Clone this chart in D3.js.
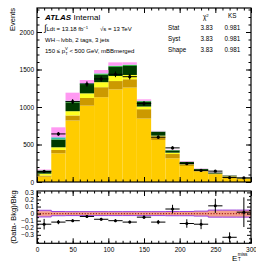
<!DOCTYPE html>
<html><head><meta charset="utf-8">
<script src="https://cdn.jsdelivr.net/npm/d3@7"></script>
<style>
html,body{margin:0;padding:0;background:#fff;}
svg{display:block;font-family:"Liberation Sans",Arial,sans-serif;}
</style></head>
<body><svg id="c" width="256" height="261"></svg>
<script>
// ---- data ----
const binLow = [0,20,40,60,80,100,120,140,160,180,200,220,240,260,280];
const binWidth = 20;
const ttbar   = [71,383,820,1018,1131,1235,1259,846,560,316,213,135,105,70,45];
const stopWt  = [15,44,67,102,133,111,111,125,45,57,20,10,5,5,3];
const stopT   = [25,36,57,62,67,67,57,35,13,18,5,5,2,1,1];
const wbb     = [40,100,115,111,100,120,120,67,50,30,30,22,15,10,6];
const wbc     = [3,8,15,15,12,12,12,6,5,4,3,2,1,1,1];
const zjets   = [2,25,10,8,6,6,6,4,2,1,1,1,1,0,0];
const multijet= [10,133,107,44,44,44,31,19,7,3,8,5,4,2,1];
const dataVals= [141,641,1072,1306,1374,1436,1404,1047,598,455,244,155,145,59,55];
const dataErr = [12,25,33,36,37,38,37,32,24,21,16,12,12,8,7];
const ratioVals=[-0.15,-0.12,-0.10,-0.04,-0.08,-0.10,-0.12,-0.05,-0.12,0.065,-0.14,-0.15,0.11,-0.335,0.02];
const ratioErr =[0.075,0.03,0.02,0.02,0.02,0.02,0.02,0.025,0.03,0.06,0.06,0.07,0.10,0.07,0.21];
const systBand =[0.047,0.03,0.028,0.028,0.028,0.028,0.028,0.028,0.028,0.03,0.03,0.035,0.05,0.05,0.05];
const statBand =[0.03,0.02,0.018,0.018,0.018,0.018,0.018,0.02,0.02,0.022,0.025,0.03,0.04,0.04,0.04];
const yTicksMain = [0,500,1000,1500,2000];
const xTicks = [0,50,100,150,200,250,300];
const rTicks = [-0.3,-0.2,-0.1,0,0.1,0.2,0.3];
const rTickLabels = ["\u22120.3","\u22120.2","\u22120.1","0","0.1","0.2","0.3"];
const statRows = [["Stat","3.83","0.981"],["Syst","3.83","0.981"],["Shape","3.83","0.981"]];

const layers = [
  {key:"ttbar", vals:ttbar, color:"#FFCC00"},
  {key:"stopWt", vals:stopWt, color:"#CC9900"},
  {key:"stopT", vals:stopT, color:"#FFFF22"},
  {key:"wbb", vals:wbb, color:"#003A00"},
  {key:"wbc", vals:wbc, color:"#22AA22"},
  {key:"zjets", vals:zjets, color:"#33BBAA"},
  {key:"multijet", vals:multijet, color:"#FF99F2"}
];

// ---- layout ----
const L=37, R=251, T=8, B=182, RT=191, RB=243.3;
const svg = d3.select("#c");
const x = d3.scaleLinear().domain([0,300]).range([L,R]);
const y = d3.scaleLinear().domain([0,2320]).range([B,T]);
const yr = d3.scaleLinear().domain([-0.42,0.32]).range([RB,RT]);

// stack
const rows = binLow.map((b,i)=>{const o={low:b}; layers.forEach(l=>o[l.key]=l.vals[i]); return o;});
const stack = d3.stack().keys(layers.map(l=>l.key))(rows);
const gStack = svg.append("g");
stack.forEach((s,li)=>{
  gStack.selectAll(null).data(s).enter().append("rect")
    .attr("x",d=>x(d.data.low)).attr("width",d=>x(d.data.low+binWidth)-x(d.data.low))
    .attr("y",d=>y(d[1])).attr("height",d=>Math.max(0,y(d[0])-y(d[1])))
    .attr("fill",layers[li].color);
});

// data points main
const gData = svg.append("g").attr("stroke","#000").attr("stroke-width",1);
binLow.forEach((b,i)=>{
  const cx = x(b+binWidth/2), cy=y(dataVals[i]);
  gData.append("line").attr("x1",x(b)).attr("x2",x(b+binWidth)).attr("y1",cy).attr("y2",cy);
  gData.append("line").attr("x1",cx).attr("x2",cx).attr("y1",y(dataVals[i]-dataErr[i])).attr("y2",y(dataVals[i]+dataErr[i]));
  gData.append("circle").attr("cx",cx).attr("cy",cy).attr("r",1.6).attr("fill","#000").attr("stroke","none");
});

// ratio band
const bandArea = (hw)=>{
  const pts=[];
  binLow.forEach((b,i)=>{pts.push([b,hw[i]]);pts.push([b+binWidth,hw[i]]);});
  return pts;
};
const sb = bandArea(systBand), tb = bandArea(statBand);
const areaGen = d3.area().x(d=>x(d[0])).y0(d=>yr(-d[1])).y1(d=>yr(d[1]));
svg.append("path").attr("d",areaGen(sb)).attr("fill","#E9A0C8").attr("stroke","none");
svg.append("path").attr("d",areaGen(tb)).attr("fill","#F4A088").attr("stroke","none");
const lineTop = d3.line().x(d=>x(d[0])).y(d=>yr(d[1]));
const lineBot = d3.line().x(d=>x(d[0])).y(d=>yr(-d[1]));
svg.append("path").attr("d",lineTop(sb)).attr("fill","none").attr("stroke","#9A40D8").attr("stroke-width",1);
svg.append("path").attr("d",lineBot(sb)).attr("fill","none").attr("stroke","#9A40D8").attr("stroke-width",1);
svg.append("line").attr("x1",x(0)).attr("x2",x(300)).attr("y1",yr(0)).attr("y2",yr(0))
  .attr("stroke","#A02020").attr("stroke-width",1.3).attr("stroke-dasharray","1.2,1.6");

// ratio points
const gR = svg.append("g").attr("stroke","#000").attr("stroke-width",1);
binLow.forEach((b,i)=>{
  const cx=x(b+binWidth/2), cy=yr(ratioVals[i]);
  gR.append("line").attr("x1",x(b)).attr("x2",x(b+binWidth)).attr("y1",cy).attr("y2",cy);
  gR.append("line").attr("x1",cx).attr("x2",cx).attr("y1",yr(ratioVals[i]-ratioErr[i])).attr("y2",yr(ratioVals[i]+ratioErr[i]));
  gR.append("circle").attr("cx",cx).attr("cy",cy).attr("r",1.5).attr("fill","#000").attr("stroke","none");
});

// ---- axes ----
function styleAxis(g){g.select(".domain").remove(); g.selectAll("line").attr("stroke","#000").attr("stroke-width",1);
  g.selectAll("text").attr("font-size","6.5px").attr("fill","#000").attr("font-family","Liberation Sans, Arial, sans-serif");}
const minorX = d3.range(0,301,10), minorY = d3.range(0,2301,100), minorR=[-0.4,-0.35,-0.25,-0.15,-0.05,0.05,0.15,0.25];
// main y left/right
svg.append("g").attr("transform",`translate(${L},0)`).call(d3.axisLeft(y).tickValues(yTicksMain).tickSizeInner(-5).tickPadding(3).tickFormat(d3.format("d"))).call(styleAxis);
svg.append("g").attr("transform",`translate(${L},0)`).call(d3.axisLeft(y).tickValues(minorY).tickSizeInner(-2.5).tickFormat("")).call(styleAxis);
svg.append("g").attr("transform",`translate(${R},0)`).call(d3.axisRight(y).tickValues(yTicksMain).tickSizeInner(-5).tickFormat("")).call(styleAxis);
svg.append("g").attr("transform",`translate(${R},0)`).call(d3.axisRight(y).tickValues(minorY).tickSizeInner(-2.5).tickFormat("")).call(styleAxis);
// main x top/bottom
[[B,"axisBottom"],[T,"axisTop"]].forEach(([yy,fn])=>{
  svg.append("g").attr("transform",`translate(0,${yy})`).call(d3[fn](x).tickValues(xTicks).tickSizeInner(-5).tickFormat("")).call(styleAxis);
  svg.append("g").attr("transform",`translate(0,${yy})`).call(d3[fn](x).tickValues(minorX).tickSizeInner(-2.5).tickFormat("")).call(styleAxis);
});
// ratio axes
svg.append("g").attr("transform",`translate(0,${RB})`).call(d3.axisBottom(x).tickValues(xTicks).tickSizeInner(-5).tickPadding(4.5).tickFormat(d3.format("d"))).call(styleAxis);
svg.append("g").attr("transform",`translate(0,${RB})`).call(d3.axisBottom(x).tickValues(minorX).tickSizeInner(-2.5).tickFormat("")).call(styleAxis);
svg.append("g").attr("transform",`translate(0,${RT})`).call(d3.axisTop(x).tickValues(xTicks).tickSizeInner(-5).tickFormat("")).call(styleAxis);
svg.append("g").attr("transform",`translate(0,${RT})`).call(d3.axisTop(x).tickValues(minorX).tickSizeInner(-2.5).tickFormat("")).call(styleAxis);
svg.append("g").attr("transform",`translate(${L},0)`).call(d3.axisLeft(yr).tickValues(rTicks).tickSizeInner(-4).tickPadding(3).tickFormat((d,i)=>rTickLabels[i])).call(styleAxis);
svg.append("g").attr("transform",`translate(${L},0)`).call(d3.axisLeft(yr).tickValues(minorR).tickSizeInner(-2).tickFormat("")).call(styleAxis);
svg.append("g").attr("transform",`translate(${R},0)`).call(d3.axisRight(yr).tickValues(rTicks).tickSizeInner(-4).tickFormat("")).call(styleAxis);
svg.append("g").attr("transform",`translate(${R},0)`).call(d3.axisRight(yr).tickValues(minorR).tickSizeInner(-2).tickFormat("")).call(styleAxis);

// frames
svg.append("rect").attr("x",L).attr("y",T).attr("width",R-L).attr("height",B-T).attr("fill","none").attr("stroke","#000").attr("stroke-width",1.2);
svg.append("rect").attr("x",L).attr("y",RT).attr("width",R-L).attr("height",RB-RT).attr("fill","none").attr("stroke","#000").attr("stroke-width",1.2);

// ---- labels ----
svg.append("text").attr("transform","translate(15,8) rotate(-90)").attr("text-anchor","end").attr("font-size","7.5px").text("Events");
svg.append("text").attr("transform","translate(15.5,217) rotate(-90)").attr("text-anchor","middle").attr("font-size","7.5px").text("(Data- Bkg)/Bkg");
const xl = svg.append("text").attr("x",232).attr("y",260.5).attr("font-size","8px");
xl.append("tspan").text("E");
xl.append("tspan").attr("font-size","4.8px").attr("dx",0.3).attr("dy",-5).text("miss");
xl.append("tspan").attr("font-size","4.5px").attr("x",238).attr("dy",5.3).text("T");

const a = svg.append("text").attr("x",45).attr("y",19.5).attr("font-size","8px");
a.append("tspan").attr("font-weight","bold").attr("font-style","italic").text("ATLAS");
a.append("tspan").attr("dx",2.5).text("Internal");
const lum = svg.append("text").attr("x",44).attr("y",31).attr("font-size","6px");
lum.append("tspan").attr("font-size","9px").text("\u222B");
lum.append("tspan").text("Ldt = 13.18 fb");
lum.append("tspan").attr("font-size","4.2px").attr("dy",-2.5).text("\u22121");
lum.append("tspan").attr("dy",2.5).attr("x",100).text("\u221As = 13 TeV");
svg.append("text").attr("x",45).attr("y",42).attr("font-size","6px").text("WH\u2192l\u03BDbb, 2 tags, 3 jets");
const pt = svg.append("text").attr("x",45).attr("y",52.5).attr("font-size","6px");
pt.append("tspan").text("150 \u2264 p");
pt.append("tspan").attr("font-size","4.2px").attr("dy",-2.3).text("V");
pt.append("tspan").attr("font-size","4.2px").attr("dx",-2.6).attr("dy",4.4).text("T");
pt.append("tspan").attr("font-size","6px").attr("dy",-2.1).text(" < 500 GeV, mBBmerged");

const hdr = svg.append("text").attr("x",203).attr("y",19).attr("font-size","6.3px");
hdr.append("tspan").text("\u03C7");
hdr.append("tspan").attr("font-size","4.2px").attr("dy",-2.5).text("2");
svg.append("text").attr("x",228).attr("y",18).attr("font-size","6.3px").text("KS");
statRows.forEach((r,i)=>{
  const yy = 30 + i*10.8;
  svg.append("text").attr("x",168).attr("y",yy).attr("font-size","6.3px").text(r[0]);
  svg.append("text").attr("x",200.5).attr("y",yy).attr("font-size","6.3px").text(r[1]);
  svg.append("text").attr("x",224.5).attr("y",yy).attr("font-size","6.3px").text(r[2]);
});
</script></body></html>
